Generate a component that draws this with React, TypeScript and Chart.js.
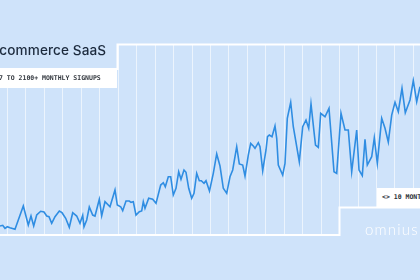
import React, { useEffect, useRef } from "react";
import { Chart, registerables } from "chart.js";

Chart.register(...registerables);

// Time index (roughly days across ~10 months) and monthly signups
const timeline = [
  0, 2.7, 5, 7.3, 10, 15, 23.3, 28.3, 31, 33.7, 36.7, 40.7, 44, 46.7, 49, 51.7, 55, 59.3, 62, 65.7,
  69.3, 72.7, 76.7, 80, 82.7, 84, 86.7, 89.3, 92.7, 95, 99.3, 101.7, 105, 110, 115, 117.3, 120.7, 122.7,
  126, 129.3, 131, 133.3, 136, 139.3, 141.7, 143.3, 145, 148.7, 152.7, 156, 160.7, 163.3, 165.3, 168.3,
  170.7, 173.3, 176, 178.7, 181, 184, 186, 188.7, 191.7, 194, 196.7, 199.3, 201.3, 204, 206, 209.5,
  213.3, 216.7, 220, 223.3, 226.7, 230, 232.7, 236.7, 239.3, 242.7, 245, 248.3, 250.7, 253.3, 255,
  258.3, 260, 262.7, 266, 267.5, 269.3, 272, 275, 276.7, 278.3, 282.7, 285, 287.3, 290.7, 293.3, 299.3,
  302.7, 306, 308.7, 311, 314, 315.5, 318.3, 320.7, 325, 329, 334, 336.7, 341, 345, 348.3, 351.7, 356.7,
  359, 362.3, 365, 367.3, 371.7, 374.3, 377.3, 381.7, 385, 388.3, 391.7, 395, 398.3, 402, 405.3, 410,
  413.3, 416.7, 420,
];

const signups = [
  56, 66, 24, 46, 32, 10, 338, 70, 197, 56, 211, 264, 254, 197, 188, 94, 188, 268, 244, 165,
  38, 244, 197, 94, 207, 46, 141, 324, 211, 197, 433, 202, 399, 328, 564, 352, 328, 272,
  409, 409, 391, 399, 211, 258, 268, 399, 306, 447, 433, 376, 634, 667, 610, 751,
  751, 493, 588, 822, 715, 846, 814, 588, 447, 517, 799, 695, 695, 658, 695, 550,
  799, 1072, 902, 588, 517, 751, 846, 1174, 931, 916, 761, 1057, 1222, 1184, 1152,
  1231, 1174, 836, 1128, 1315, 1339, 1315, 1466, 1293, 916, 775, 940, 1575, 1801, 1456, 963,
  1456, 1551, 1434, 1777, 1386, 1198, 1166, 1645, 1597, 1716, 822, 799, 1645, 1410, 1410, 822, 1410,
  846, 766, 1279, 916, 1033, 1301, 940, 1575, 1434, 1241, 1621, 1801, 1668, 1998, 1654, 1833,
  2105, 1809, 2020,
];

const titleText = "Ecommerce SaaS";
const subtitleText = "7 TO 2100+ MONTHLY SIGNUPS";
const durationText = "<> 10 MONTHS";
const brandText = "omnius";

// vertical guide lines every ~18.45 time units
const gridStart = 7.5;
const gridStep = 18.45;
const gridCount = 23;

const BG = "#cfe3fa";
const LINE = "#2f8de2";

export default function App() {
  const ref = useRef<HTMLCanvasElement>(null);

  useEffect(() => {
    document.body.style.margin = "0";
    const canvas = ref.current;
    if (!canvas) return;

    const panelPlugin = {
      id: "panel",
      beforeDraw(chart: any) {
        const { ctx, width, height } = chart;
        ctx.save();
        ctx.fillStyle = BG;
        ctx.fillRect(0, 0, width, height);
        ctx.restore();
      },
      beforeDatasetsDraw(chart: any) {
        const { ctx } = chart;
        ctx.save();
        ctx.fillStyle = BG;
        ctx.fillRect(0, 0, 420, 44.5);
        ctx.fillRect(0, 44, 118, 44);
        ctx.fillRect(0, 235, 420, 45);
        ctx.fillRect(339.5, 207.5, 81, 28);
        ctx.strokeStyle = "#ffffff";
        ctx.lineWidth = 2;
        ctx.beginPath();
        ctx.moveTo(117.5, 70);
        ctx.lineTo(117.5, 44.5);
        ctx.lineTo(421, 44.5);
        ctx.moveTo(-1, 235);
        ctx.lineTo(339.5, 235);
        ctx.lineTo(339.5, 207.5);
        ctx.lineTo(421, 207.5);
        ctx.stroke();
        ctx.restore();
      },
    };

    const chart = new Chart(canvas, {
      type: "line",
      data: {
        datasets: [
          {
            data: timeline.map((t, i) => ({ x: t, y: signups[i] })),
            borderColor: LINE,
            borderWidth: 1.6,
            pointRadius: 0,
            tension: 0,
            fill: false,
          },
        ],
      },
      options: {
        animation: false,
        responsive: false,
        maintainAspectRatio: false,
        layout: { padding: 0 },
        plugins: { legend: { display: false }, tooltip: { enabled: false } },
        scales: {
          x: {
            type: "linear",
            min: 0,
            max: 420,
            offset: false,
            afterBuildTicks: (scale: any) => {
              scale.ticks = Array.from({ length: gridCount }, (_, i) => ({ value: gridStart + gridStep * i }));
            },
            ticks: { display: false },
            border: { display: false },
            grid: { color: "rgba(255,255,255,0.6)", lineWidth: 1, drawTicks: false },
          },
          y: {
            display: false,
            min: -705,
            max: 3243,
          },
        },
      },
      plugins: [panelPlugin],
    });
    return () => chart.destroy();
  }, []);

  const mono = "'DejaVu Sans Mono', 'Liberation Mono', monospace";
  return (
    <div style={{ position: "fixed", left: 0, top: 0, width: 420, height: 280, overflow: "hidden", background: BG }}>
      <canvas ref={ref} width={420} height={280} style={{ position: "absolute", left: 0, top: 0, width: 420, height: 280 }} />
      <div
        style={{
          position: "absolute",
          left: -9,
          top: 42.5,
          font: "500 13.6px Inter, 'Noto Sans', sans-serif",
          lineHeight: "15px",
          letterSpacing: "0.1px",
          color: "#1c2a3d",
          whiteSpace: "nowrap",
        }}
      >
        {titleText}
      </div>
      <div
        style={{
          position: "absolute",
          left: 0,
          top: 68,
          width: 116.5,
          height: 20,
          background: "#ffffff",
          overflow: "hidden",
        }}
      >
        <div
          style={{
            position: "absolute",
            left: -1,
            top: 0,
            font: `bold 6.5px ${mono}`,
            lineHeight: "20px",
            color: "#33383f",
            whiteSpace: "nowrap",
          }}
        >
          {subtitleText}
        </div>
      </div>
      <div
        style={{
          position: "absolute",
          left: 377,
          top: 188,
          width: 43,
          height: 19,
          background: "#ffffff",
          overflow: "hidden",
        }}
      >
        <div
          style={{
            position: "absolute",
            left: 5,
            top: 0,
            font: `bold 6.5px ${mono}`,
            lineHeight: "19px",
            color: "#2a2f36",
            whiteSpace: "nowrap",
          }}
        >
          {durationText}
        </div>
      </div>
      <div
        style={{
          position: "absolute",
          left: 365,
          top: 220,
          font: "300 15px Lato, 'Open Sans', sans-serif",
          lineHeight: "18px",
          letterSpacing: "1.2px",
          color: "#ffffff",
          whiteSpace: "nowrap",
        }}
      >
        {brandText}
      </div>
    </div>
  );
}
